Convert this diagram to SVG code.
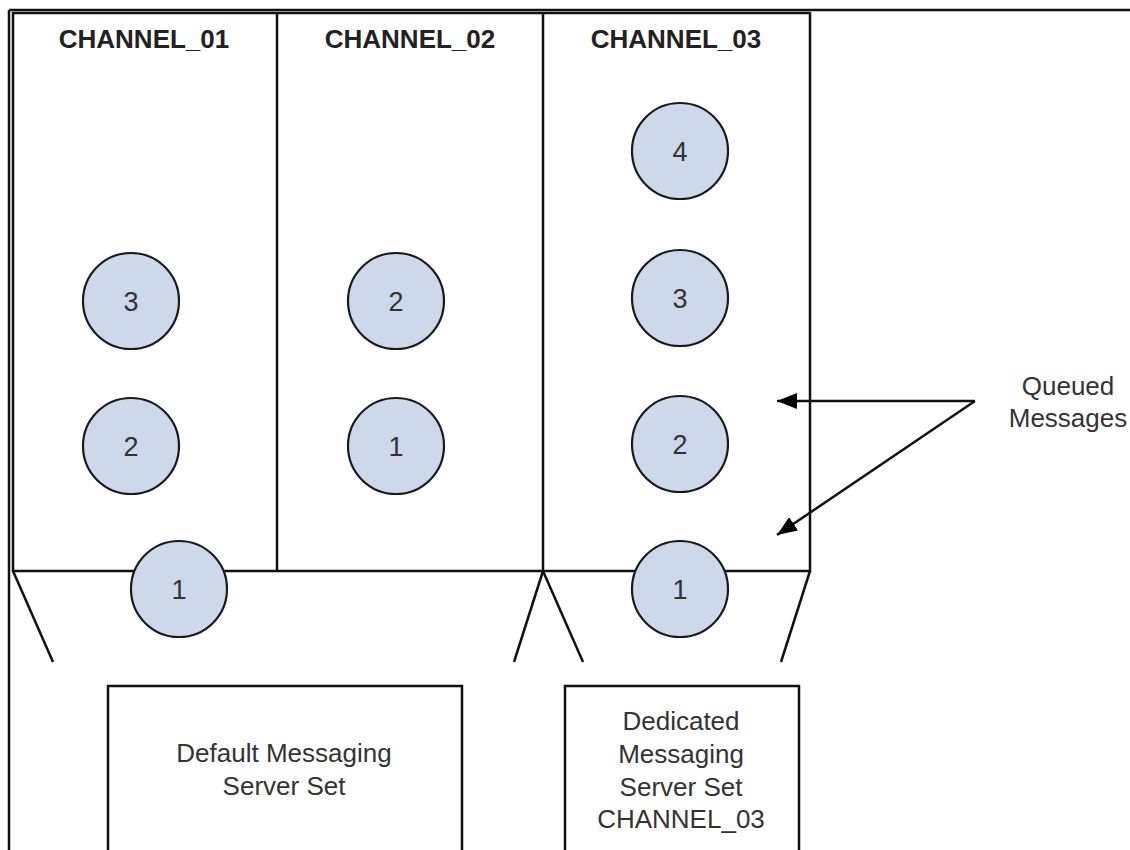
<svg xmlns="http://www.w3.org/2000/svg" width="1130" height="850" viewBox="0 0 1130 850">
<defs>
<style>
.ln{stroke:#111;stroke-width:2.5;fill:none}
.box{stroke:#111;stroke-width:2.5;fill:#fff}
.msg{fill:#cdd9ea;stroke:#1a1a1a;stroke-width:2.2}
.t{font-family:"Liberation Sans",Arial,sans-serif;font-size:26px;fill:#333;text-anchor:middle}
.title{font-family:"Liberation Sans",Arial,sans-serif;font-size:26px;font-weight:bold;fill:#222;text-anchor:middle}
.num{font-family:"Liberation Sans",Arial,sans-serif;font-size:27px;fill:#333;text-anchor:middle}
</style>
<marker id="ah" markerWidth="20" markerHeight="16" viewBox="0 0 20 16" refX="20" refY="8" orient="auto" markerUnits="userSpaceOnUse">
<path d="M0,0 L20,8 L0,16 Z" fill="#000"/>
</marker>
</defs>
<rect width="1130" height="850" fill="#fff"/>
<g id="frame">
<line class="ln" x1="9" y1="10" x2="1130" y2="10"/>
<line class="ln" x1="9" y1="10" x2="9" y2="850"/>
</g>
<g id="channels">
<rect class="box" x="13" y="13" width="797" height="558"/>
<line class="ln" x1="277" y1="13" x2="277" y2="571"/>
<line class="ln" x1="543" y1="13" x2="543" y2="571"/>
</g>
<g id="channel_01">
<text class="title" x="144" y="48">CHANNEL_01</text>
</g>
<g id="channel_02">
<text class="title" x="410" y="48">CHANNEL_02</text>
</g>
<g id="channel_03">
<text class="title" x="676" y="48">CHANNEL_03</text>
</g>
<g id="funnels">
<line class="ln" x1="13" y1="571" x2="53" y2="662"/>
<line class="ln" x1="543" y1="571" x2="514" y2="662"/>
<line class="ln" x1="543" y1="571" x2="583" y2="662"/>
<line class="ln" x1="810" y1="571" x2="781" y2="662"/>
</g>
<g id="ch1_msg3"><circle class="msg" cx="131" cy="301" r="48"/><text class="num" x="131" y="311">3</text></g>
<g id="ch1_msg2"><circle class="msg" cx="131" cy="446" r="48"/><text class="num" x="131" y="456">2</text></g>
<g id="ch1_msg1"><circle class="msg" cx="179" cy="589" r="48"/><text class="num" x="179" y="599">1</text></g>
<g id="ch2_msg2"><circle class="msg" cx="396" cy="301" r="48"/><text class="num" x="396" y="311">2</text></g>
<g id="ch2_msg1"><circle class="msg" cx="396" cy="446" r="48"/><text class="num" x="396" y="456">1</text></g>
<g id="ch3_msg4"><circle class="msg" cx="680" cy="151" r="48"/><text class="num" x="680" y="161">4</text></g>
<g id="ch3_msg3"><circle class="msg" cx="680" cy="298" r="48"/><text class="num" x="680" y="308">3</text></g>
<g id="ch3_msg2"><circle class="msg" cx="680" cy="444" r="48"/><text class="num" x="680" y="454">2</text></g>
<g id="ch3_msg1"><circle class="msg" cx="680" cy="589" r="48"/><text class="num" x="680" y="599">1</text></g>
<g id="default_server">
<rect class="box" x="108" y="686" width="354" height="175"/>
<text class="t" x="284" y="762">Default Messaging</text>
<text class="t" x="284" y="795">Server Set</text>
</g>
<g id="dedicated_server">
<rect class="box" x="565" y="686" width="234" height="175"/>
<text class="t" x="681" y="730">Dedicated</text>
<text class="t" x="681" y="763">Messaging</text>
<text class="t" x="681" y="796">Server Set</text>
<text class="t" x="681" y="828">CHANNEL_03</text>
</g>
<g id="queued_label">
<text class="t" x="1068" y="395">Queued</text>
<text class="t" x="1068" y="427">Messages</text>
</g>
<g id="connectors">
<line class="ln" x1="975" y1="401" x2="777" y2="401" marker-end="url(#ah)"/>
<line class="ln" x1="975" y1="401" x2="777" y2="535" marker-end="url(#ah)"/>
</g>
</svg>
